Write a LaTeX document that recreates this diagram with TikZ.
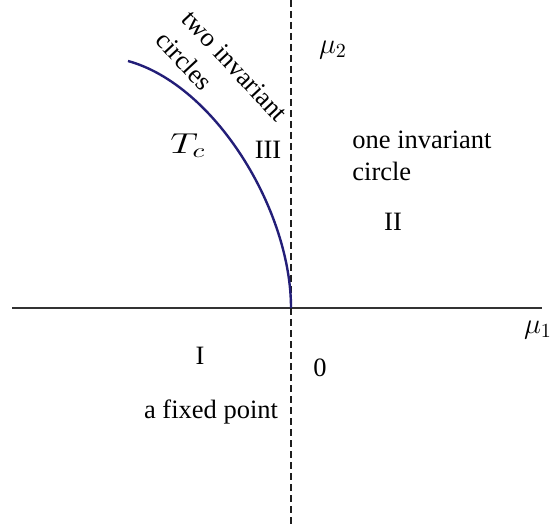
\documentclass[tikz,border=0pt]{standalone}
\usepackage{fontspec}
\newfontfamily\tnr{Liberation Serif}
\begin{document}
\begin{tikzpicture}[x=0.5pt,y=-0.5pt,
  lbl/.style={inner sep=0pt,font=\tnr\fontsize{13.25}{16}\selectfont},
  mlbl/.style={inner sep=0pt,font=\fontsize{14.4}{17}\selectfont},
  axis/.style={line width=1pt,draw={rgb,255:red,50;green,50;blue,50}},
  dashaxis/.style={line width=1pt,draw={rgb,255:red,30;green,30;blue,30},dash pattern=on 3.5pt off 2pt},
  tcurve/.style={line width=1.2pt,draw={rgb,255:red,35;green,30;blue,120}}]
\useasboundingbox (0,0) rectangle (555,528);
\coordinate (xl) at (12,308);
\coordinate (xr) at (542,308);
\coordinate (yt) at (291,0);
\coordinate (yb) at (291,528);
\coordinate (o) at (291,308);
\coordinate (cs) at (128,61);
\draw[axis] (xl) -- (xr);
\draw[dashaxis] (yt) -- (yb);
\draw[tcurve] (cs) .. controls (215,85) and (291,210) .. (o);
\node[mlbl] (mu2) at (333,50) {$\mu_2$};
\node[mlbl] (mu1) at (538,330) {$\mu_1$};
\node[mlbl] (tc) at (188,146) {\scalebox{1.35}[1]{$T_c$}};
\node[lbl] (r3) at (268,150) {III};
\node[lbl,align=left,anchor=west] (one) at (352,156) {one invariant\\circle};
\node[lbl] (r2) at (393,222) {II};
\node[lbl] (r1) at (200,356) {I};
\node[lbl] (zero) at (320,368) {0};
\node[lbl] (fixed) at (211,412) {a fixed point};
\node[lbl,rotate=-47] (two) at (235,66) {two invariant};
\node[lbl,rotate=-47] (circ) at (185,61) {circles};
\end{tikzpicture}
\end{document}
